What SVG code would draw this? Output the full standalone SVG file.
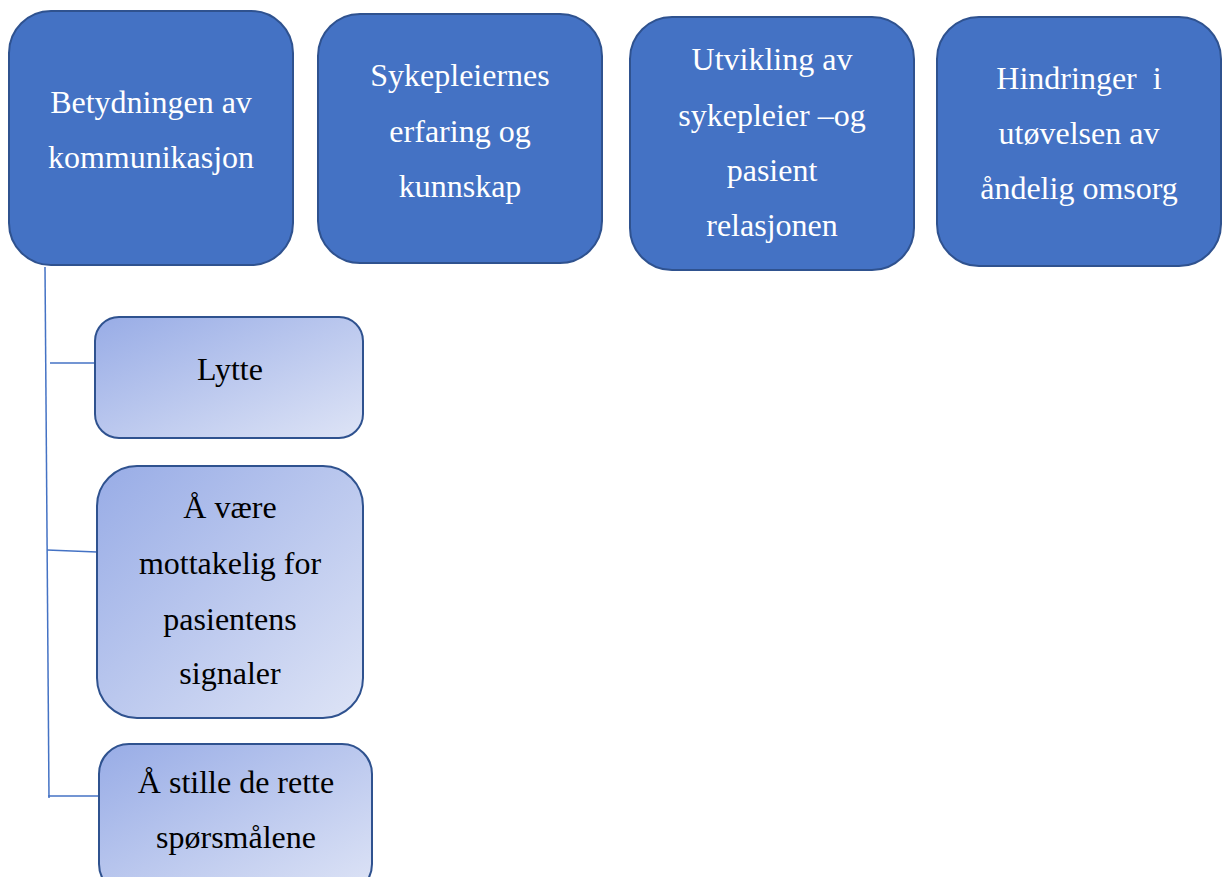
<svg xmlns="http://www.w3.org/2000/svg" width="1222" height="877" viewBox="0 0 1222 877">
<style>
.main{fill:#4472C4;stroke:#2F528F;stroke-width:2}
.child{fill:url(#cg);stroke:#2F528F;stroke-width:2}
.conn{fill:none;stroke:#4472C4;stroke-width:1.5}
text{font-family:'Liberation Serif','Times New Roman','DejaVu Serif',serif;font-size:32px;text-anchor:middle}
.tw{fill:#FFFFFF}
.tb{fill:#000000}
</style>
<defs>
<linearGradient id="cg" x1="0" y1="0" x2="1" y2="1">
<stop offset="0" stop-color="#98ACE6"/>
<stop offset="1" stop-color="#DEE4F6"/>
</linearGradient>
</defs>
<rect width="1222" height="877" fill="#FFFFFF"/>
<g id="connectors">
<path class="conn" d="M45 267 L49 798"/>
<path class="conn" d="M50 363 L94 363"/>
<path class="conn" d="M47 550 L97 552"/>
<path class="conn" d="M48 796 L98 796"/>
</g>
<g id="n1">
<rect class="main" x="9" y="11" width="284" height="254" rx="42"/>
<text class="tw" x="151" y="113">Betydningen av</text>
<text class="tw" x="151" y="168">kommunikasjon</text>
</g>
<g id="n2">
<rect class="main" x="318" y="14" width="284" height="249" rx="42"/>
<text class="tw" x="460" y="86">Sykepleiernes</text>
<text class="tw" x="460" y="142">erfaring og</text>
<text class="tw" x="460" y="197">kunnskap</text>
</g>
<g id="n3">
<rect class="main" x="630" y="17" width="284" height="253" rx="42"/>
<text class="tw" x="772" y="70" font-size="30.5">Utvikling av</text>
<text class="tw" x="772" y="126" font-size="30.5">sykepleier –og</text>
<text class="tw" x="772" y="181" font-size="30.5">pasient</text>
<text class="tw" x="772" y="236" font-size="30.5">relasjonen</text>
</g>
<g id="n4">
<rect class="main" x="937" y="17" width="284" height="249" rx="42"/>
<text class="tw" x="1079" y="89" xml:space="preserve">Hindringer  i</text>
<text class="tw" x="1079" y="144">utøvelsen av</text>
<text class="tw" x="1079" y="199">åndelig omsorg</text>
</g>
<g id="c1">
<rect class="child" x="95" y="317" width="268" height="121" rx="24"/>
<text class="tb" x="230" y="380">Lytte</text>
</g>
<g id="c2">
<rect class="child" x="97" y="466" width="266" height="252" rx="40"/>
<text class="tb" x="230" y="518">Å være</text>
<text class="tb" x="230" y="574">mottakelig for</text>
<text class="tb" x="230" y="630">pasientens</text>
<text class="tb" x="230" y="684">signaler</text>
</g>
<g id="c3">
<rect class="child" x="99" y="744" width="273" height="150" rx="30"/>
<text class="tb" x="236" y="793">Å stille de rette</text>
<text class="tb" x="236" y="848">spørsmålene</text>
</g>
</svg>
